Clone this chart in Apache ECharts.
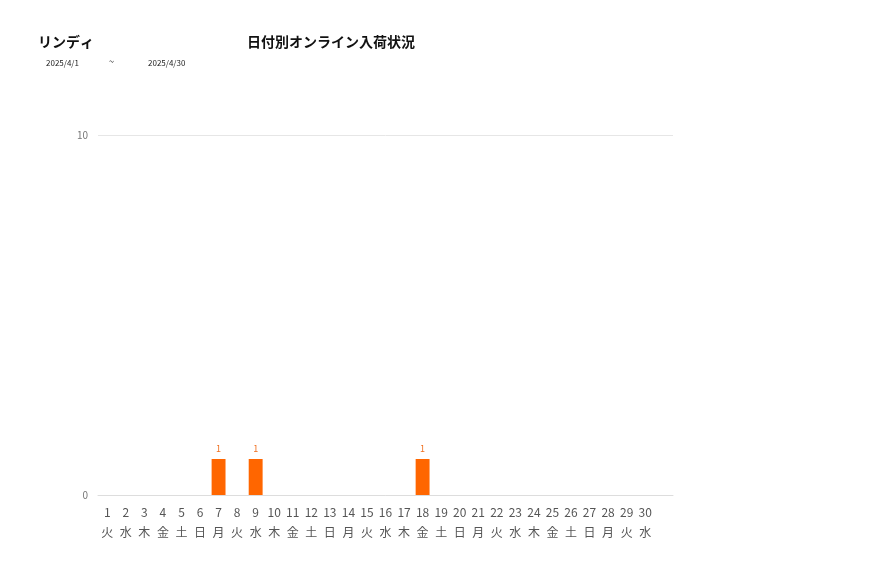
<!DOCTYPE html>
<html>
<head>
<meta charset="utf-8">
<title>日付別オンライン入荷状況</title>
<script src="https://cdn.jsdelivr.net/npm/echarts@6/dist/echarts.min.js"></script>
<style>
body{margin:0;background:#fff;}
#main{width:877px;height:578px;}
</style>
</head>
<body>
<div id="main"></div>
<script>
// 日付と曜日（最後の空欄は軸の余白用）
var days = ['1','2','3','4','5','6','7','8','9','10','11','12','13','14','15','16','17','18','19','20','21','22','23','24','25','26','27','28','29','30',''];
var weekdays = ['火','水','木','金','土','日','月','火','水','木','金','土','日','月','火','水','木','金','土','日','月','火','水','木','金','土','日','月','火','水',''];
// 入荷件数
var counts = [0,0,0,0,0,0,1,0,1,0,0,0,0,0,0,0,0,1,0,0,0,0,0,0,0,0,0,0,0,0,null];
var yTicks = {min:0, max:10, interval:10};

var cats = days.map(function(d,i){ return d==='' ? '' : d+'\n'+weekdays[i]; });

var myChart = echarts.init(document.getElementById('main'));
var font = 'Noto Sans CJK JP';
var option = {
	animation:false,
	textStyle:{fontFamily:font},
	title:[
		{text:'リンディ', left:33, top:30, textStyle:{fontSize:14, fontWeight:'bold', color:'#111', fontFamily:font}},
		{text:'日付別オンライン入荷状況', left:242, top:30, textStyle:{fontSize:14, fontWeight:'bold', color:'#111', fontFamily:font}},
		{text:'2025/4/1', left:41, top:54, textStyle:{fontSize:8, fontWeight:'normal', color:'#222', fontFamily:font}},
		{text:'~', left:104, top:52, textStyle:{fontSize:9, fontWeight:'normal', color:'#222', fontFamily:font}},
		{text:'2025/4/30', left:143, top:54, textStyle:{fontSize:8, fontWeight:'normal', color:'#222', fontFamily:font}}
	],
	grid:{left:98, right:204, top:135, bottom:83, containLabel:false},
	xAxis:{
		type:'category',
		data:cats,
		axisLine:{lineStyle:{color:'#ddd'}},
		axisTick:{show:false},
		axisLabel:{interval:0, color:'#555', fontSize:12, lineHeight:20, margin:7, fontFamily:font}
	},
	yAxis:{
		type:'value',
		min:yTicks.min, max:yTicks.max, interval:yTicks.interval,
		axisLine:{show:false},
		axisTick:{show:false},
		splitLine:{lineStyle:{color:'#e6e6e6'}},
		axisLabel:{color:'#777', fontSize:10, margin:10}
	},
	series:[{
		type:'bar',
		data:counts,
		barWidth:'75%',
		itemStyle:{color:'#ff6600'},
		label:{
			show:true, position:'top', color:'#f07020', fontSize:9, distance:6,
			formatter:function(p){ return p.value ? p.value : ''; }
		}
	}]
};
myChart.setOption(option);
</script>
</body>
</html>
